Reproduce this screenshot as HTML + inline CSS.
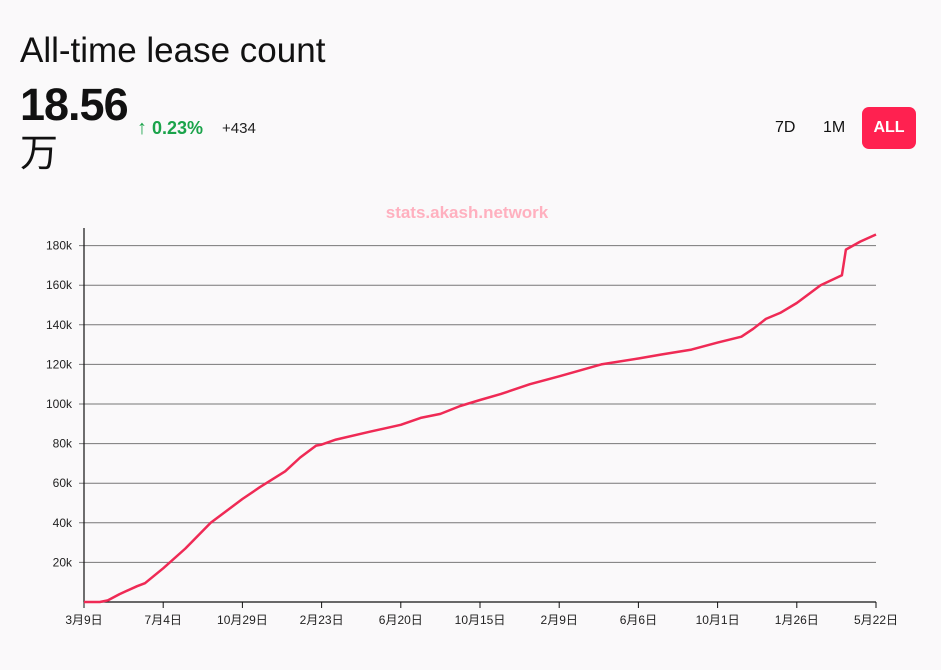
<!DOCTYPE html>
<html><head><meta charset="utf-8">
<style>
body{margin:0;width:941px;height:670px;background:#faf9fa;font-family:"Liberation Sans","Noto Sans CJK SC",sans-serif;overflow:hidden;position:relative}
.t{position:absolute}
</style></head><body>
<div class="t" style="left:20px;top:31px;font-size:35px;color:#111">All-time lease count</div>
<div class="t" style="left:20px;top:82px;font-size:45px;font-weight:bold;color:#111;letter-spacing:-1px;line-height:46px">18.56<br><span style="font-weight:normal;font-size:38px">万</span></div>
<div class="t" style="left:137px;top:117px;font-size:18px;color:#1aa34a;font-weight:bold"><span style="font-weight:normal;font-size:20px">↑</span> 0.23%</div>
<div class="t" style="left:222px;top:120px;font-size:15px;color:#222">+434</div>
<div class="t" style="left:775px;top:119px;font-size:16px;color:#111">7D</div>
<div class="t" style="left:823px;top:119px;font-size:16px;color:#111">1M</div>
<div class="t" style="left:862px;top:107px;width:54px;height:42px;border-radius:7px;background:#ff2150;color:#fff;font-size:16px;font-weight:bold;text-align:center;line-height:42px">ALL</div>
<svg id="chart" class="t" style="left:0;top:0" width="941" height="670">
<text x="467" y="218" text-anchor="middle" font-size="17" font-weight="bold" fill="#ffb0bf" font-family="Liberation Sans, sans-serif">stats.akash.network</text>
</svg>
<script>
const xLabels=["3月9日","7月4日","10月29日","2月23日","6月20日","10月15日","2月9日","6月6日","10月1日","1月26日","5月22日"];
const yTicks=[20000,40000,60000,80000,100000,120000,140000,160000,180000];
const yTickLabels=["20k","40k","60k","80k","100k","120k","140k","160k","180k"];
// time in tick-interval units (0..10)
const pointT=[0,0.2,0.3,0.45,0.67,0.77,1,1.28,1.6,2,2.22,2.54,2.73,2.93,3,3.18,3.61,4,4.25,4.5,4.75,5,5.26,5.63,6,6.53,7,7.29,7.67,8,8.3,8.45,8.61,8.79,9,9.3,9.57,9.62,9.8,10];
const pointV=[0,0,800,4000,8000,9500,17000,27000,40000,52000,58000,66000,73000,79000,79500,82000,86000,89500,93000,95000,99000,102000,105000,110000,114000,120000,123000,125000,127500,131000,134000,138000,143000,146000,151000,160000,165000,178000,182000,185600];
const X0=84,X1=876,Y0=602,YMAX=180000,YTOP=245.6;
const xs=t=>X0+t*(X1-X0)/10;
const ys=v=>Y0-v*(Y0-YTOP)/YMAX;
const svg=document.getElementById('chart');
const NS='http://www.w3.org/2000/svg';
function mk(tag,attrs){const e=document.createElementNS(NS,tag);for(const k in attrs)e.setAttribute(k,attrs[k]);svg.appendChild(e);return e;}
yTicks.forEach((v,i)=>{
 const g=mk('line',{x1:X0-5,x2:X1,y1:ys(v),y2:ys(v),stroke:'#777','stroke-width':1});
 
 
 const t=mk('text',{x:X0-12,y:ys(v)+4,'text-anchor':'end','font-size':12,fill:'#222'});
 t.textContent=yTickLabels[i];
 
 
});
const ya=mk('line',{x1:X0,x2:X0,y1:228,y2:Y0,stroke:'#111','stroke-width':1.2});


const xa=mk('line',{x1:X0,x2:X1,y1:Y0,y2:Y0,stroke:'#111','stroke-width':1.2});


xLabels.forEach((l,i)=>{
 const tk=mk('line',{x1:xs(i),x2:xs(i),y1:Y0,y2:Y0+6,stroke:'#111'});
 
 
 const t=mk('text',{x:xs(i),y:Y0+22,'text-anchor':'middle','font-size':12,fill:'#222'});
 t.textContent=l;
 
 
});
const d=pointT.map((t,i)=>(i?'L':'M')+xs(t).toFixed(1)+','+ys(pointV[i]).toFixed(1)).join(' ');
const p=mk('path',{d:d,fill:'none',stroke:'#ef2a55','stroke-width':2.5,'stroke-linejoin':'round'});


</script>
</body></html>
